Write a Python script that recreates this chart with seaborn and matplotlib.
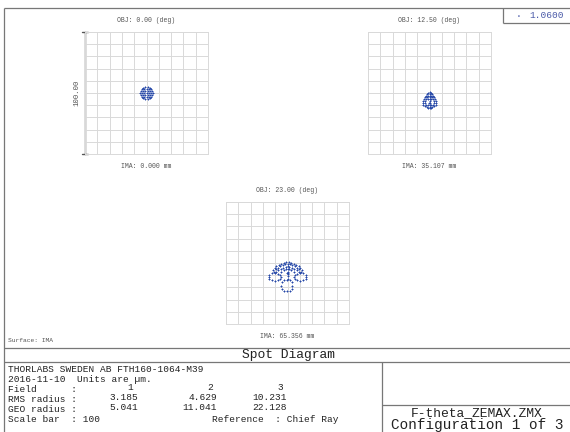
import matplotlib
matplotlib.use('Agg')
import matplotlib.pyplot as plt
import seaborn as sns
import pandas as pd

# --- chart data -------------------------------------------------------------
obj_labels = ['OBJ: 0.00 (deg)', 'OBJ: 12.50 (deg)', 'OBJ: 23.00 (deg)']
ima_labels = ['IMA: 0.000 mm', 'IMA: 35.107 mm', 'IMA: 65.356 mm']
fields = ['1', '2', '3']
rms_radius = ['3.185', '4.629', '10.231']
geo_radius = ['5.041', '11.041', '22.128']
scale_bar = 100
wavelength = '1.0600'

# spot points in um, relative to chief ray
spot1_x = [0, 1.8, 0.9, -0.9, -1.8, -0.9, 0.9,
           3.5, 3.0, 1.75, 0, -1.75, -3.0, -3.5, -3.0, -1.75, 0, 1.75, 3.0,
           5.0, 4.7, 3.8, 2.5, 0.9, -0.9, -2.5, -3.8, -4.7, -5.0, -4.7, -3.8, -2.5, -0.9, 0.9, 2.5, 3.8, 4.7]
spot1_y = [0, 0, 1.6, 1.6, 0, -1.6, -1.6,
           0, 1.75, 3.0, 3.5, 3.0, 1.75, 0, -1.75, -3.0, -3.5, -3.0, -1.75,
           0, 1.7, 3.2, 4.3, 4.9, 4.9, 4.3, 3.2, 1.7, 0, -1.7, -3.2, -4.3, -4.9, -4.9, -4.3, -3.2, -1.7]

spot2_x = [0, -1, 1, -2, 0, 2, -2.8, -1.4, 0, 1.4, 2.8, -3.3, -1.7, 0, 1.7, 3.3,
           -4.8, -3.2, -1.6, 0, 1.6, 3.2, 4.8,
           -5.5, -4, 0, 4, 5.5,
           -5.5, -3.8, -0.8, 0.8, 3.8, 5.5,
           -5, -3, -1.5, 0, 1.5, 3, 5,
           -3.5, -1.8, 0, 1.8, 3.5, -1.5, 0, 1.5]
spot2_y = [0.5, 0, 0, -1, -1, -1, -2.2, -2.2, -2.2, -2.2, -2.2, -3.5, -3.5, -3.5, -3.5, -3.5,
           -5, -5, -5, -5, -5, -5, -5,
           -6.5, -6.5, -6.5, -6.5, -6.5,
           -8, -8.3, -7.8, -7.8, -8.3, -8,
           -9.5, -9.8, -9.5, -9.7, -9.5, -9.8, -9.5,
           -11, -11.2, -11.2, -11.2, -11, -12.3, -12.5, -12.3]

spot3_x = [-11.5, -10.5, -9, -7, -5, -3, -1, 1, 3, 5, 7, 9, 10.5, 11.5,
           -9.5, -8, -6, -4, -2, 0, 2, 4, 6, 8, 9.5,
           -7.5, -5.5, -3.5, -1.5, 0, 1.5, 3.5, 5.5, 7.5,
           -5, -3, -1, 0, 1, 3, 5,
           -11, -9, 9, 11,
           0, 0, 0, -0.6, 0.6, 0,
           -15.4, -14.7, -13, -10.5, -8, -6, -5.5, -6.2, -8, -10.5, -13, -14.7,
           15.4, 14.7, 13, 10.5, 8, 6, 5.5, 6.2, 8, 10.5, 13, 14.7,
           4, 3.4, 1.8, -0.5, -2.8, -4.4, -5, -4.4, -2.8, -0.5, 1.8, 3.4]
spot3_y = [-6, -4.2, -2.7, -1.5, -0.5, 0.2, 0.7, 0.7, 0.2, -0.5, -1.5, -2.7, -4.2, -6,
           -5.2, -3.8, -2.7, -1.8, -1.1, -0.9, -1.1, -1.8, -2.7, -3.8, -5.2,
           -6, -4.8, -3.7, -3.0, -2.8, -3.0, -3.7, -4.8, -6,
           -7, -6, -5, -4.8, -5, -6, -7,
           -7.5, -7, -7, -7.5,
           -7, -9, -11, -8, -8, -13,
           -11.5, -9.7, -8.5, -8.2, -8.8, -10, -11.5, -13, -14.3, -14.8, -14.3, -13.2,
           -11.5, -9.7, -8.5, -8.2, -8.8, -10, -11.5, -13, -14.3, -14.8, -14.3, -13.2,
           -18.5, -15.8, -14.3, -14, -14.3, -15.8, -18.5, -21.2, -22.7, -23, -22.7, -21.2]

spots = pd.concat([
    pd.DataFrame({'x': spot1_x, 'y': spot1_y, 'field': 1}),
    pd.DataFrame({'x': spot2_x, 'y': spot2_y, 'field': 2}),
    pd.DataFrame({'x': spot3_x, 'y': spot3_y, 'field': 3}),
])

# --- style --------------------------------------------------------------------
sns.set_style('white')
plt.rcParams['font.family'] = ['Liberation Mono', 'DejaVu Sans Mono']

W, H = 570, 432
fig = plt.figure(figsize=(W / 100, H / 100), dpi=100)

def px_axes(x, y, w, h, **kw):
    return fig.add_axes([x / W, 1 - (y + h) / H, w / W, h / H], **kw)

# frame / text layer in pixel coordinates
frame = px_axes(0, 0, W, H)
frame.set_xlim(0, W)
frame.set_ylim(H, 0)
frame.axis('off')
lc = '#777777'
for (x0, y0), (x1, y1) in [((4, 8), (570, 8)), ((4, 8), (4, 432)),
                           ((4, 348), (570, 348)), ((4, 362), (570, 362)),
                           ((382, 362), (382, 432)), ((382, 405), (570, 405)),
                           ((503, 8), (503, 23)), ((503, 23), (570, 23))]:
    frame.plot([x0, x1], [y0, y1], color=lc, lw=0.9, solid_capstyle='butt')

txt = '#222222'
frame.text(519, 16, '\u00b7', color='#4a5aa8', fontsize=7, ha='center', va='center')
frame.text(529, 16, wavelength, color='#4a5aa8', fontsize=6.8, va='center')
frame.text(8, 341, 'Surface: IMA', color='#555555', fontsize=4.5, va='center')
frame.text(288, 355, 'Spot Diagram', color=txt, fontsize=9.4, ha='center', va='center')

fs = 6.8
frame.text(8, 369, 'THORLABS SWEDEN AB FTH160-1064-M39', color=txt, fontsize=fs, va='center')
frame.text(8, 379, '2016-11-10  Units are \u00b5m.', color=txt, fontsize=fs, va='center')
frame.text(8, 390, 'Field      :', color=txt, fontsize=fs, va='center')
frame.text(8, 400, 'RMS radius :', color=txt, fontsize=fs, va='center')
frame.text(8, 410, 'GEO radius :', color=txt, fontsize=fs, va='center')
frame.text(8, 420, f'Scale bar  : {scale_bar}', color=txt, fontsize=fs, va='center')
frame.text(212, 420, 'Reference  : Chief Ray', color=txt, fontsize=fs, va='center')
for xr, fl in zip([133, 213, 283], fields):
    frame.text(xr, 387, fl, color=txt, fontsize=fs, ha='right', va='center')
for xr, rms, geo in zip([138, 217, 287], rms_radius, geo_radius):
    frame.text(xr, 398, rms, color=txt, fontsize=fs, ha='right', va='center')
    frame.text(xr, 408, geo, color=txt, fontsize=fs, ha='right', va='center')

frame.text(477, 416, 'F-theta_ZEMAX.ZMX', color=txt, fontsize=9.4, ha='center', va='baseline')
frame.text(477, 428.5, 'Configuration 1 of 3', color=txt, fontsize=10.4, ha='center', va='baseline')

# --- spot panels ---------------------------------------------------------------
boxes = [(85, 32), (368, 32), (226, 202)]
bw, bh = 123, 122
gc = '#d9d9d9'
blue = '#2446a8'
half = scale_bar / 2

for i, (bx, by) in enumerate(boxes):
    ax = px_axes(bx, by, bw, bh)
    sns.scatterplot(data=spots[spots['field'] == i + 1], x='x', y='y', marker='+',
                    color=blue, s=3.6, linewidth=0.7, ax=ax, legend=False, zorder=3)
    ax.set_xlim(-half, half)
    ax.set_ylim(-half, half)
    ax.set_xticks(range(-50, 51, 10))
    ax.set_yticks(range(-50, 51, 10))
    ax.tick_params(length=0, labelbottom=False, labelleft=False)
    ax.grid(True, color=gc, lw=0.7)
    ax.set_xlabel('')
    ax.set_ylabel('')
    for sp in ax.spines.values():
        sp.set_color(gc)
        sp.set_linewidth(0.7)
    ax.set_facecolor('none')
    cx = bx + bw / 2
    frame.text(cx, by - 12, obj_labels[i], color='#555555', fontsize=4.7, ha='center', va='center')
    frame.text(cx, by + bh + 12, ima_labels[i], color='#555555', fontsize=4.7, ha='center', va='center')

# scale bar on first panel
bx, by = boxes[0]
frame.plot([bx, bx], [by, by + bh], color='#555555', lw=1.0)
frame.plot([bx - 3, bx + 3], [by, by], color='#555555', lw=1.0)
frame.plot([bx - 3, bx + 3], [by + bh, by + bh], color='#555555', lw=1.0)
frame.text(bx - 8, by + 61, f'{scale_bar:.2f}', color='#555555', fontsize=5.3,
           rotation=90, ha='center', va='center')

fig.savefig('out.png', dpi=100)
